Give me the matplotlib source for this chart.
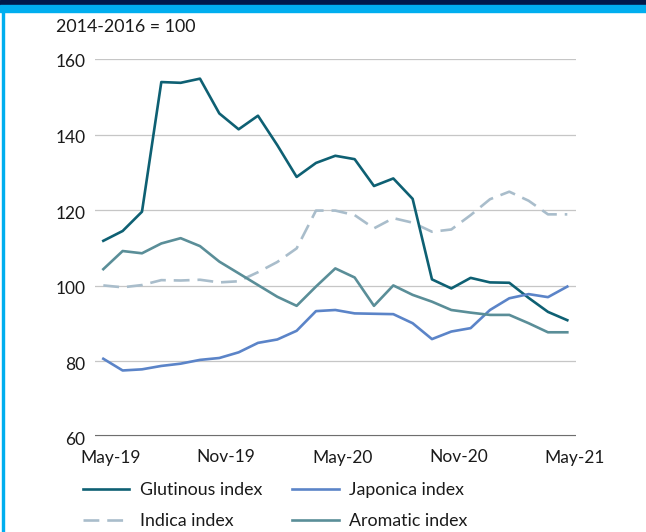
import matplotlib.pyplot as plt
import matplotlib.transforms as mtransforms
from matplotlib.patches import Rectangle

# FAO rice price sub-indices, monthly May-19 .. May-21 (2014-2016 = 100)
months = ['May-19', 'Jun-19', 'Jul-19', 'Aug-19', 'Sep-19', 'Oct-19', 'Nov-19',
          'Dec-19', 'Jan-20', 'Feb-20', 'Mar-20', 'Apr-20', 'May-20', 'Jun-20',
          'Jul-20', 'Aug-20', 'Sep-20', 'Oct-20', 'Nov-20', 'Dec-20', 'Jan-21',
          'Feb-21', 'Mar-21', 'Apr-21', 'May-21']
glutinous = [111.9, 114.5, 119.6, 153.9, 153.7, 154.8, 145.6, 141.4, 145.0,
             137.2, 128.8, 132.5, 134.4, 133.5, 126.4, 128.4, 123.0, 101.7,
             99.3, 102.1, 100.9, 100.8, 96.8, 93.1, 90.9]
japonica = [80.7, 77.6, 77.9, 78.8, 79.4, 80.4, 80.9, 82.4, 84.9, 85.8, 88.1,
            93.3, 93.6, 92.7, 92.6, 92.5, 90.1, 85.9, 87.9, 88.8, 93.6, 96.7,
            97.8, 97.0, 99.8]
indica = [100.1, 99.6, 100.2, 101.5, 101.4, 101.6, 100.9, 101.2, 103.6, 106.3,
          109.9, 119.9, 119.9, 118.7, 115.2, 117.9, 116.7, 114.3, 114.9, 118.7,
          122.9, 124.9, 122.5, 118.9, 118.9]
aromatic = [104.4, 109.2, 108.6, 111.2, 112.6, 110.5, 106.4, 103.3, 100.2, 97.1,
            94.7, 99.8, 104.6, 102.2, 94.7, 100.1, 97.6, 95.8, 93.6, 92.9, 92.3,
            92.3, 90.1, 87.7, 87.7]
tick_months = ['May-19', 'Nov-19', 'May-20', 'Nov-20', 'May-21']
yticks = [60, 80, 100, 120, 140, 160]

plt.rcParams['font.family'] = ['Lato', 'DejaVu Sans']
TXT = '#1a1a1a'

W, H = 646, 532
fig = plt.figure(figsize=(W / 100, H / 100), dpi=100)

# frame: navy + light blue band on top, thin blue rule on the left
fig.patches.append(Rectangle((0, 1 - 5 / H), 1, 5 / H, transform=fig.transFigure,
                             color='#001a4a', zorder=0))
fig.patches.append(Rectangle((0, 1 - 12 / H), 1, 7 / H, transform=fig.transFigure,
                             color='#00aeef', zorder=0))
fig.patches.append(Rectangle((2 / W, 0), 2 / W, 1 - 12 / H, transform=fig.transFigure,
                             color='#00aeef', zorder=0))

ax = fig.add_axes([95 / W, 1 - 437 / H, 481 / W, 378 / H])
x = list(range(len(months)))

for v in yticks[1:]:
    ax.axhline(v, color='#c6c6c6', lw=0.9, zorder=1)
ax.axhline(60, color='#6e6e6e', lw=0.8, zorder=1)
ax.axhline(60.65, color='#6e6e6e', lw=0.8, zorder=1)

ax.plot(x, glutinous, color='#0e6073', lw=1.9, label='Glutinous index', zorder=3)
ax.plot(x, japonica, color='#5b84c8', lw=1.9, label='Japonica index', zorder=3)
ax.plot(x, indica, color='#a9bdcb', lw=1.9, dashes=(6, 3), label='Indica index', zorder=2)
ax.plot(x, aromatic, color='#5a8e98', lw=1.9, label='Aromatic index', zorder=3)

ax.set_xlim(-0.43, 24.45)
ax.set_ylim(60, 160)
ax.set_yticks(yticks)
ax.set_xticks([months.index(m) for m in tick_months])
ax.set_xticklabels(tick_months)
ax.tick_params(length=0, labelsize=12.5, labelcolor=TXT)
ax.tick_params(axis='y', pad=7)
ax.tick_params(axis='x', pad=9)
offset = mtransforms.ScaledTranslation(7 / 100, 0, fig.dpi_scale_trans)
for lab in ax.get_xticklabels():
    lab.set_transform(lab.get_transform() + offset)
for lab in ax.get_yticklabels():
    lab.set_transform(lab.get_transform() +
                      mtransforms.ScaledTranslation(0, -2 / 100, fig.dpi_scale_trans))
for s in ax.spines.values():
    s.set_visible(False)

fig.text(56 / W, 1 - 27 / H, '2014-2016 = 100', fontsize=12.8, color=TXT,
         ha='left', va='center')

h, l = ax.get_legend_handles_labels()
order = [0, 2, 1, 3]
fig.legend([h[i] for i in order], [l[i] for i in order], ncol=2,
           loc='upper left', bbox_to_anchor=(67 / W, 1 - 466 / H),
           frameon=False, fontsize=12.8, handlelength=2.6, handletextpad=0.6,
           columnspacing=1.7, labelspacing=0.85, labelcolor=TXT)

fig.savefig('out.png', dpi=100)
